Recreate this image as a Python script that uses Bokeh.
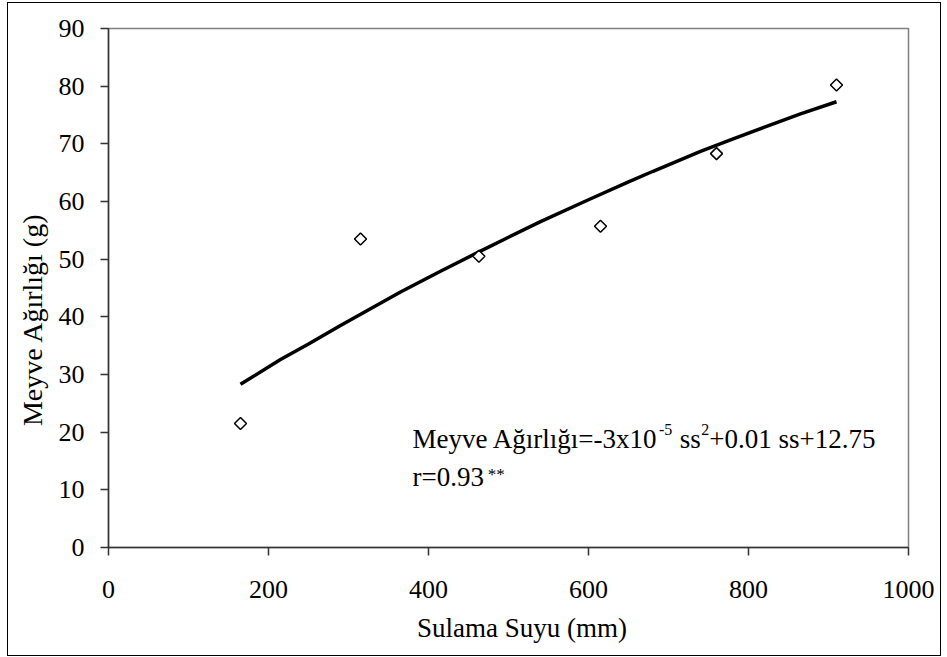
import math
from bokeh.plotting import figure
from bokeh.models import Range1d, FixedTicker, Label
from bokeh.embed import file_html
from bokeh.resources import INLINE

# Observed data (irrigation water in mm, fruit weight in g)
obs_x = [165, 315, 463, 615, 760, 910]
obs_y = [21.5, 53.5, 50.5, 55.7, 68.3, 80.2]

# Fitted curve
fit_x = [165, 215, 250, 290, 365, 415, 465, 500, 540, 600, 650, 680, 740, 780, 820, 865, 910]
fit_y = [28.3, 32.6, 35.3, 38.5, 44.3, 47.9, 51.4, 53.8, 56.5, 60.3, 63.4, 65.2, 68.7, 70.8, 72.9, 75.2, 77.3]

x_ticks = [0, 200, 400, 600, 800, 1000]
y_ticks = [0, 10, 20, 30, 40, 50, 60, 70, 80, 90]

FONT = "Liberation Serif"
NB = "\u00a0"

p = figure(width=934, height=654, output_backend="svg", toolbar_location=None,
           x_range=Range1d(0, 1000), y_range=Range1d(0, 90),
           min_border_left=100, min_border_right=34,
           min_border_top=25, min_border_bottom=110)
p.margin = (2, 0, 0, 7)
p.styles = {"border": "1px solid black", "box-sizing": "border-box"}

p.xgrid.visible = False
p.ygrid.visible = False
p.outline_line_color = "#808080"
p.outline_line_width = 1.5
p.background_fill_color = "white"
p.border_fill_color = "white"

for ax in (p.xaxis[0], p.yaxis[0]):
    ax.axis_line_color = "#333333"
    ax.axis_line_width = 1.5
    ax.major_tick_line_color = "#333333"
    ax.major_tick_line_width = 1.5
    ax.major_tick_out = 8
    ax.major_tick_in = 0
    ax.minor_tick_line_color = None
    ax.major_label_text_font = FONT
    ax.major_label_text_font_size = "26px"
    ax.major_label_text_color = "black"
    ax.axis_label_text_font = FONT
    ax.axis_label_text_font_style = "normal"
    ax.axis_label_text_color = "black"

p.xaxis[0].ticker = FixedTicker(ticks=x_ticks)
p.yaxis[0].ticker = FixedTicker(ticks=y_ticks)
p.xaxis[0].major_label_standoff = 25
p.yaxis[0].major_label_standoff = 16

p.xaxis[0].axis_label = NB * 4 + "Sulama Suyu (mm)"
p.xaxis[0].axis_label_text_font_size = "27px"
p.xaxis[0].axis_label_standoff = 12

p.yaxis[0].axis_label = "Meyve Ağırlığı (g)" + NB * 9
p.yaxis[0].axis_label_text_font_size = "28px"
p.yaxis[0].axis_label_standoff = 8

p.line(fit_x, fit_y, line_color="black", line_width=3.5)
p.scatter(obs_x, obs_y, marker="square", angle=math.pi / 4, size=8.5,
          fill_color="white", line_color="black", line_width=1.5)

def lab(x, y, t, size):
    p.add_layout(Label(x=x, y=y, text=t, text_font=FONT, text_font_size=size,
                       text_color="black", text_baseline="alphabetic",
                       text_align="left"))

lab(380, 18.9, "Meyve Ağırlığı=-3x10", "27px")
lab(688, 20.4, "-5", "16px")
lab(714, 18.9, "ss", "27px")
lab(741, 20.4, "2", "16px")
lab(751, 18.9, "+0.01 ss+12.75", "27px")
lab(380, 12.3, "r=0.93", "27px")
lab(474, 12.7, "**", "17px")

open("out.html", "w").write(file_html(p, INLINE))
